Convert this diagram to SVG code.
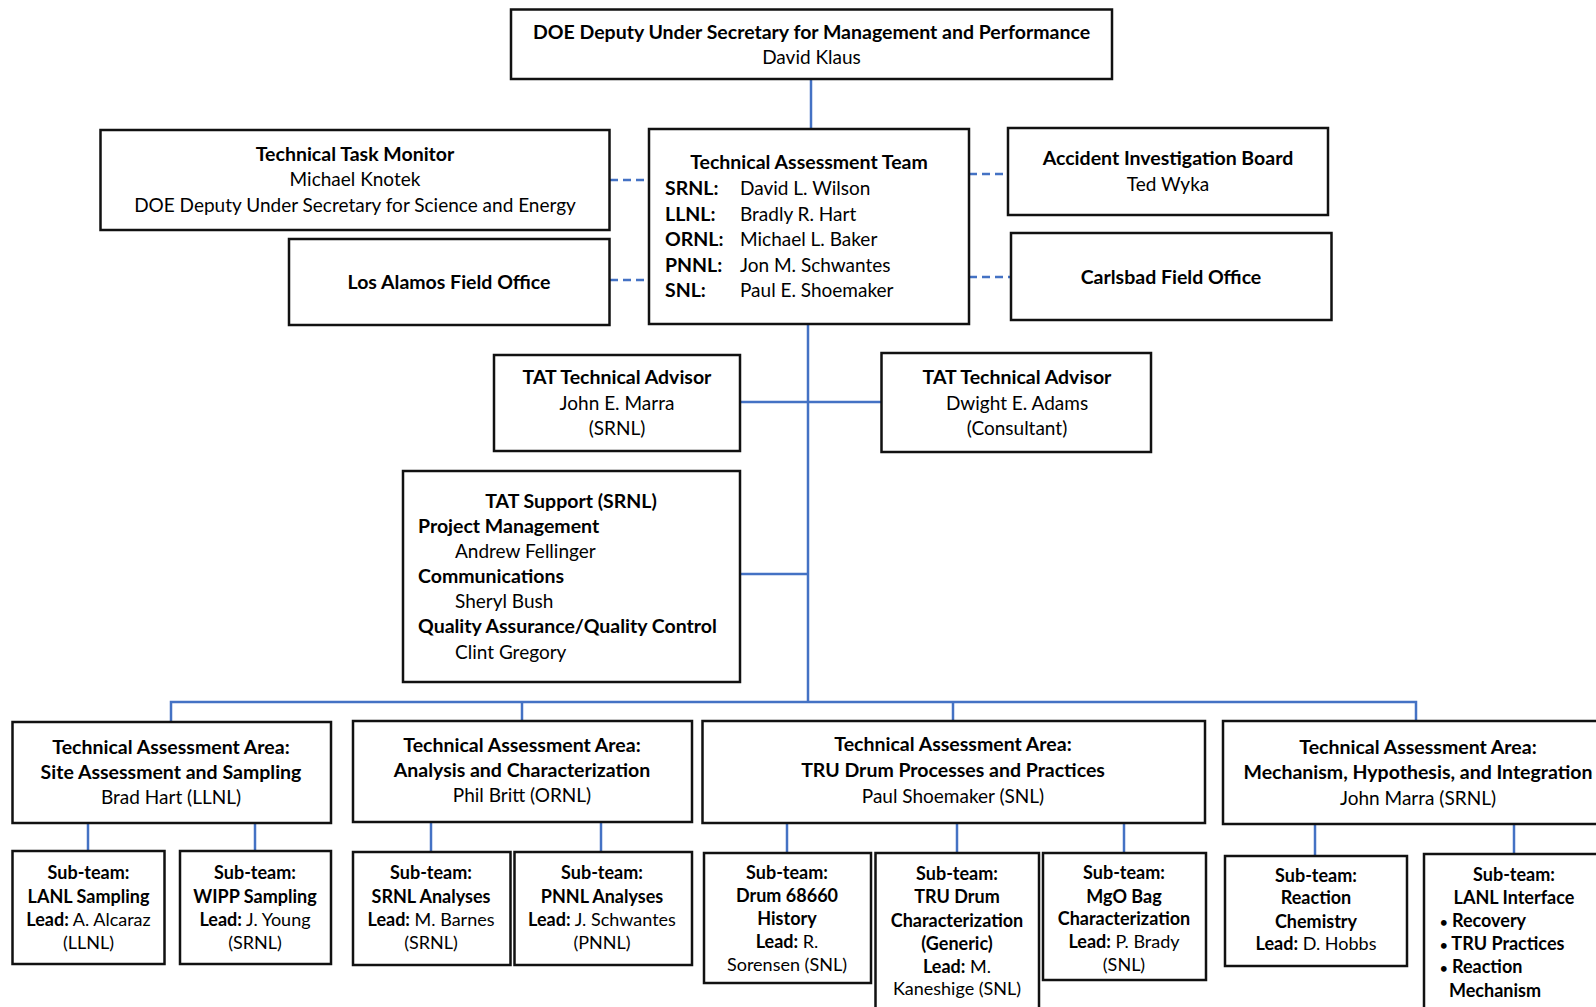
<svg xmlns="http://www.w3.org/2000/svg" width="1596" height="1007" viewBox="0 0 1596 1007">
<style>
.box{fill:#fff;stroke:#111;stroke-width:2.5}
text{font-family:Lato,"Open Sans",sans-serif;font-size:19px;fill:#000}
.b{font-weight:bold;font-size:19.5px}
.c{text-anchor:middle}
.s text{font-size:18px}
.s .b, .s tspan.b{font-size:18px}
.bul{font-size:13px}
.ln{stroke:#4472C4;stroke-width:2.5;fill:none}
.dash{stroke-dasharray:8 5}
</style>
<rect width="1596" height="1007" fill="#fff"/>
<g id="connectors">
<line class="ln" x1="811" y1="79" x2="811" y2="129"/>
<line class="ln" x1="808" y1="324" x2="808" y2="703"/>
<line class="ln dash" x1="610" y1="180" x2="649" y2="180"/>
<line class="ln dash" x1="610" y1="280" x2="649" y2="280"/>
<line class="ln dash" x1="969" y1="174" x2="1008" y2="174"/>
<line class="ln dash" x1="969" y1="277" x2="1011" y2="277"/>
<line class="ln" x1="740" y1="402" x2="882" y2="402"/>
<line class="ln" x1="740" y1="574" x2="808" y2="574"/>
<polyline class="ln" points="171,722 171,702 1416,702 1416,721"/>
<line class="ln" x1="522" y1="702" x2="522" y2="721"/>
<line class="ln" x1="953" y1="702" x2="953" y2="721"/>
<line class="ln" x1="88" y1="823" x2="88" y2="851"/>
<line class="ln" x1="255" y1="823" x2="255" y2="851"/>
<line class="ln" x1="431" y1="822" x2="431" y2="852"/>
<line class="ln" x1="601" y1="822" x2="601" y2="852"/>
<line class="ln" x1="787" y1="823" x2="787" y2="853"/>
<line class="ln" x1="957" y1="823" x2="957" y2="853"/>
<line class="ln" x1="1124" y1="823" x2="1124" y2="853"/>
<line class="ln" x1="1315" y1="824" x2="1315" y2="856"/>
<line class="ln" x1="1514" y1="824" x2="1514" y2="854"/>
</g>
<g id="doe">
<rect class="box" x="511" y="9.5" width="601" height="69.5"/>
<text class="b c" x="811.5" y="39">DOE Deputy Under Secretary for Management and Performance</text>
<text class="c" x="811.5" y="64">David Klaus</text>
</g>
<g id="ttm">
<rect class="box" x="100.5" y="130" width="509" height="100"/>
<text class="b c" x="355" y="161">Technical Task Monitor</text>
<text class="c" x="355" y="186">Michael Knotek</text>
<text class="c" x="355" y="212">DOE Deputy Under Secretary for Science and Energy</text>
</g>
<g id="lafo">
<rect class="box" x="289" y="239" width="320.5" height="86"/>
<text class="b c" x="449" y="289">Los Alamos Field Office</text>
</g>
<g id="tat">
<rect class="box" x="649" y="129" width="320" height="195"/>
<text class="b c" x="809" y="169">Technical Assessment Team</text>
<text class="b" x="665" y="195">SRNL:</text><text x="740" y="195">David L. Wilson</text>
<text class="b" x="665" y="221">LLNL:</text><text x="740" y="221">Bradly R. Hart</text>
<text class="b" x="665" y="246">ORNL:</text><text x="740" y="246">Michael L. Baker</text>
<text class="b" x="665" y="272">PNNL:</text><text x="740" y="272">Jon M. Schwantes</text>
<text class="b" x="665" y="297">SNL:</text><text x="740" y="297">Paul E. Shoemaker</text>
</g>
<g id="aib">
<rect class="box" x="1008" y="128" width="320" height="87"/>
<text class="b c" x="1168" y="165">Accident Investigation Board</text>
<text class="c" x="1168" y="191">Ted Wyka</text>
</g>
<g id="cbfo">
<rect class="box" x="1011" y="233" width="320.5" height="87"/>
<text class="b c" x="1171" y="284">Carlsbad Field Office</text>
</g>
<g id="adv1">
<rect class="box" x="494" y="355" width="246" height="96"/>
<text class="b c" x="617" y="384">TAT Technical Advisor</text>
<text class="c" x="617" y="410">John E. Marra</text>
<text class="c" x="617" y="435">(SRNL)</text>
</g>
<g id="adv2">
<rect class="box" x="881.5" y="353" width="269.5" height="99"/>
<text class="b c" x="1017" y="384">TAT Technical Advisor</text>
<text class="c" x="1017" y="410">Dwight E. Adams</text>
<text class="c" x="1017" y="435">(Consultant)</text>
</g>
<g id="support">
<rect class="box" x="403" y="471" width="337" height="211"/>
<text class="b c" x="571" y="508">TAT Support (SRNL)</text>
<text class="b" x="418" y="533">Project Management</text>
<text x="455" y="558">Andrew Fellinger</text>
<text class="b" x="418" y="583">Communications</text>
<text x="455" y="608">Sheryl Bush</text>
<text class="b" x="418" y="633">Quality Assurance/Quality Control</text>
<text x="455" y="659">Clint Gregory</text>
</g>
<g id="area1">
<rect class="box" x="12.5" y="722" width="318.5" height="101"/>
<text class="b c" x="171" y="754">Technical Assessment Area:</text>
<text class="b c" x="171" y="779">Site Assessment and Sampling</text>
<text class="c" x="171" y="804">Brad Hart (LLNL)</text>
</g>
<g id="area2">
<rect class="box" x="353" y="721" width="339" height="101"/>
<text class="b c" x="522" y="752">Technical Assessment Area:</text>
<text class="b c" x="522" y="777">Analysis and Characterization</text>
<text class="c" x="522" y="802">Phil Britt (ORNL)</text>
</g>
<g id="area3">
<rect class="box" x="702.5" y="721" width="502.5" height="102"/>
<text class="b c" x="953" y="751">Technical Assessment Area:</text>
<text class="b c" x="953" y="777">TRU Drum Processes and Practices</text>
<text class="c" x="953" y="803">Paul Shoemaker (SNL)</text>
</g>
<g id="area4">
<rect class="box" x="1223" y="721" width="400" height="103"/>
<text class="b c" x="1418" y="754">Technical Assessment Area:</text>
<text class="b c" x="1418" y="779">Mechanism, Hypothesis, and Integration</text>
<text class="c" x="1418" y="805">John Marra (SRNL)</text>
</g>
<g id="sub1" class="s">
<rect class="box" x="12.5" y="851" width="152" height="113"/>
<text class="b c" x="88.5" y="879">Sub-team:</text>
<text class="b c" x="88.5" y="903">LANL Sampling</text>
<text class="c" x="88.5" y="926"><tspan class="b">Lead:</tspan> A. Alcaraz</text>
<text class="c" x="88.5" y="949">(LLNL)</text>
</g>
<g id="sub2" class="s">
<rect class="box" x="180" y="851" width="151" height="113"/>
<text class="b c" x="255" y="879">Sub-team:</text>
<text class="b c" x="255" y="903">WIPP Sampling</text>
<text class="c" x="255" y="926"><tspan class="b">Lead:</tspan> J. Young</text>
<text class="c" x="255" y="949">(SRNL)</text>
</g>
<g id="sub3" class="s">
<rect class="box" x="353" y="852" width="157.5" height="113"/>
<text class="b c" x="431" y="879">Sub-team:</text>
<text class="b c" x="431" y="903">SRNL Analyses</text>
<text class="c" x="431" y="926"><tspan class="b">Lead:</tspan> M. Barnes</text>
<text class="c" x="431" y="949">(SRNL)</text>
</g>
<g id="sub4" class="s">
<rect class="box" x="514.5" y="852" width="177.5" height="113"/>
<text class="b c" x="602" y="879">Sub-team:</text>
<text class="b c" x="602" y="903">PNNL Analyses</text>
<text class="c" x="602" y="926"><tspan class="b">Lead:</tspan> J. Schwantes</text>
<text class="c" x="602" y="949">(PNNL)</text>
</g>
<g id="sub5" class="s">
<rect class="box" x="704" y="853" width="167" height="130"/>
<text class="b c" x="787" y="879">Sub-team:</text>
<text class="b c" x="787" y="902">Drum 68660</text>
<text class="b c" x="787" y="925">History</text>
<text class="c" x="787" y="948"><tspan class="b">Lead:</tspan> R.</text>
<text class="c" x="787" y="971">Sorensen (SNL)</text>
</g>
<g id="sub6" class="s">
<rect class="box" x="875.5" y="853" width="163.5" height="170"/>
<text class="b c" x="957" y="880">Sub-team:</text>
<text class="b c" x="957" y="903">TRU Drum</text>
<text class="b c" x="957" y="927">Characterization</text>
<text class="b c" x="957" y="950">(Generic)</text>
<text class="c" x="957" y="973"><tspan class="b">Lead:</tspan> M.</text>
<text class="c" x="957" y="995">Kaneshige (SNL)</text>
</g>
<g id="sub7" class="s">
<rect class="box" x="1043" y="853" width="163" height="127"/>
<text class="b c" x="1124" y="879">Sub-team:</text>
<text class="b c" x="1124" y="903">MgO Bag</text>
<text class="b c" x="1124" y="925">Characterization</text>
<text class="c" x="1124" y="948"><tspan class="b">Lead:</tspan> P. Brady</text>
<text class="c" x="1124" y="971">(SNL)</text>
</g>
<g id="sub8" class="s">
<rect class="box" x="1225" y="856" width="182" height="110"/>
<text class="b c" x="1316" y="882">Sub-team:</text>
<text class="b c" x="1316" y="904">Reaction</text>
<text class="b c" x="1316" y="928">Chemistry</text>
<text class="c" x="1316" y="950"><tspan class="b">Lead:</tspan> D. Hobbs</text>
</g>
<g id="sub9" class="s">
<rect class="box" x="1424" y="854" width="200" height="170"/>
<text class="b c" x="1514" y="881">Sub-team:</text>
<text class="b c" x="1514" y="904">LANL Interface</text>
<text class="b" x="1440" y="927"><tspan class="bul">•</tspan> Recovery</text>
<text class="b" x="1440" y="950"><tspan class="bul">•</tspan> TRU Practices</text>
<text class="b" x="1440" y="973"><tspan class="bul">•</tspan> Reaction</text>
<text class="b" x="1449" y="997">Mechanism</text>
</g>
</svg>
